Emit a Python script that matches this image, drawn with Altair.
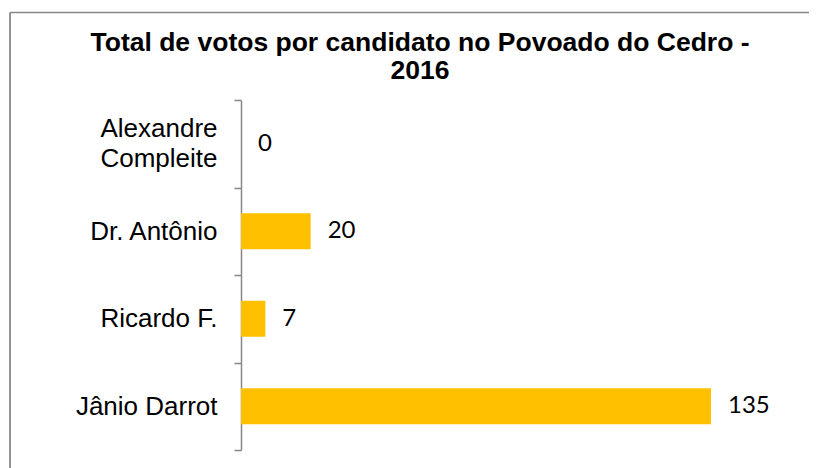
import altair as alt
import pandas as pd

# ---- data ----
candidates = ["Alexandre Compleite", "Dr. Antônio", "Ricardo F.", "Jânio Darrot"]
votes = [0, 20, 7, 135]
title_lines = ["Total de votos por candidato no Povoado do Cedro -", "2016"]

df = pd.DataFrame({"candidato": candidates, "votos": votes})

GRAY = "#878787"

base = alt.Chart(df).encode(
    y=alt.Y(
        "candidato:N",
        sort=candidates,
        scale=alt.Scale(paddingInner=0, paddingOuter=0),
        axis=alt.Axis(
            title=None,
            tickBand="extent",
            labelExpr="datum.value == 'Alexandre Compleite' ? ['Alexandre', 'Compleite'] : datum.label",
            labelOffset={"condition": {"test": "datum.value == 'Alexandre Compleite'", "value": -15}, "value": 0},
            labelFont="Liberation Sans",
            labelFontSize=26,
            labelColor="black",
            labelPadding=17,
            labelLineHeight=30,
            labelLimit=400,
            tickSize=7,
            tickWidth=1.5,
            tickColor=GRAY,
            domainColor=GRAY,
            domainWidth=1.5,
            grid=False,
        ),
    ),
    x=alt.X("votos:Q", scale=alt.Scale(domain=[0, 135]), axis=None),
)

bars = base.mark_bar(color="#FFC000", height=alt.RelativeBandSize(0.41))
labels = base.mark_text(
    align="left", baseline="middle", dx=17, font="Lato", fontSize=24, color="black"
).encode(text="votos:Q")

one = pd.DataFrame({"k": [0]})
title = alt.Chart(one).mark_text(
    font="Liberation Sans", fontSize=26.5, fontWeight="bold", color="black",
    align="center", baseline="alphabetic", lineHeight=28,
).encode(x=alt.value(179), y=alt.value(-49), text=alt.value(title_lines))

frame_left = alt.Chart(one).mark_rule(color=GRAY, strokeWidth=1.8).encode(
    x=alt.value(-231), y=alt.value(-87.5), y2=alt.value(368)
)
frame_top = alt.Chart(one).mark_rule(color=GRAY, strokeWidth=1.3).encode(
    x=alt.value(-231), x2=alt.value(568), y=alt.value(-87.5)
)

chart = (
    alt.layer(frame_left, frame_top, bars, labels, title)
    .properties(
        width=470,
        height=350,
        autosize=alt.AutoSizeParams(type="none"),
        padding={"left": 233, "top": 92, "right": 98, "bottom": 18},
        background="white",
    )
    .configure_view(stroke=None)
)

chart.save("out.html", embed_options={"renderer": "svg", "actions": False})
